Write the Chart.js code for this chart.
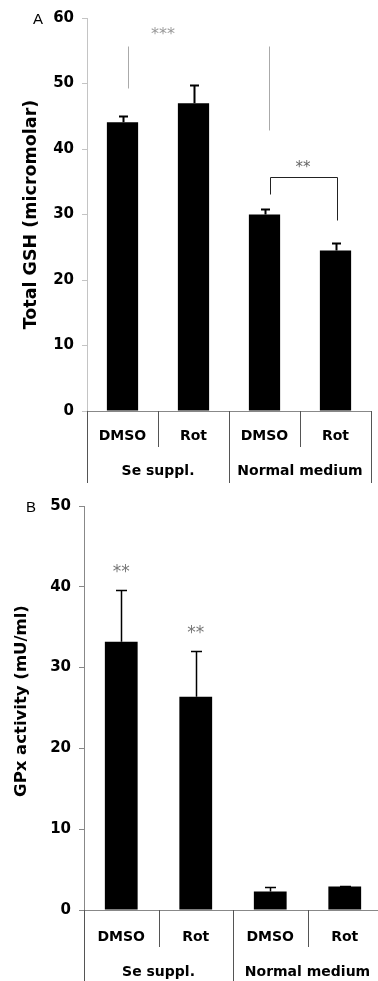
<!DOCTYPE html>
<html>
<head>
<meta charset="utf-8">
<script src="https://cdn.jsdelivr.net/npm/chart.js@4.4.0/dist/chart.umd.min.js"></script>
<style>
    html, body { margin: 0; padding: 0; background: #fff; overflow: hidden; }
    #wrap { width: 378px; height: 981px; overflow: hidden; }
    canvas { display: block; }
</style>
</head>
<body>
<div id="wrap">
    <canvas id="chartA" width="378" height="489"></canvas>
    <canvas id="chartB" width="384" height="492"></canvas>
</div>
<script>
// Data
const categories = ['DMSO', 'Rot', 'DMSO', 'Rot'];
const groups = ['Se suppl.', 'Normal medium'];
const gshValues = [44.1, 47.0, 30.0, 24.5];
const gshErrors = [0.9, 2.8, 0.8, 1.2];
const gshTicks = [0, 10, 20, 30, 40, 50, 60];
const gpxValues = [33.2, 26.4, 2.3, 2.9];
const gpxErrors = [6.4, 5.6, 0.6, 0.1];
const gpxTicks = [0, 10, 20, 30, 40, 50];

const FONT = '"DejaVu Sans", Verdana, sans-serif';

// Draws error bars, two-level category axis, title, panel letter and significance marks
const panelPlugin = {
    id: 'panel',
    afterDraw(chart, args, opts) {
        const ctx = chart.ctx;
        const xs = chart.scales.x;
        const ys = chart.scales.y;
        const area = chart.chartArea;
        const values = chart.data.datasets[0].data;
        ctx.save();

        // error bars
        ctx.strokeStyle = '#000';
        ctx.lineWidth = opts.errWidth;
        values.forEach((v, i) => {
            const cx = Math.round(xs.getPixelForValue(i)) + 0.5;
            const y0 = ys.getPixelForValue(v);
            const y1 = Math.round(ys.getPixelForValue(v + opts.errors[i])) + 0.5;
            ctx.beginPath();
            ctx.moveTo(cx, y0);
            ctx.lineTo(cx, y1);
            ctx.moveTo(cx - opts.cap / 2, y1);
            ctx.lineTo(cx + opts.cap / 2, y1);
            ctx.stroke();
        });

        // separators of the category axis
        ctx.strokeStyle = '#555';
        ctx.lineWidth = 1;
        const bottom = area.bottom;
        for (let i = 0; i <= categories.length; i++) {
            let ex;
            if (i === 0) ex = area.left;
            else if (i === categories.length) ex = area.right;
            else ex = (xs.getPixelForValue(i - 1) + xs.getPixelForValue(i)) / 2;
            const long = i % 2 === 0;
            ctx.beginPath();
            ctx.moveTo(Math.round(ex) + 0.5, bottom);
            ctx.lineTo(Math.round(ex) + 0.5, long ? bottom + opts.groupDepth : bottom + opts.catDepth);
            ctx.stroke();
        }

        // category and group labels
        ctx.fillStyle = '#000';
        ctx.font = 'bold 14px ' + FONT;
        ctx.textAlign = 'center';
        ctx.textBaseline = 'middle';
        categories.forEach((c, i) => {
            ctx.fillText(c, xs.getPixelForValue(i), bottom + opts.catOffset);
        });
        groups.forEach((g, gi) => {
            const gx = (xs.getPixelForValue(gi * 2) + xs.getPixelForValue(gi * 2 + 1)) / 2;
            ctx.fillText(g, gx, bottom + opts.groupOffset);
        });

        // y title
        ctx.save();
        ctx.translate(opts.titleX, (area.top + area.bottom) / 2 + opts.titleDy);
        ctx.rotate(-Math.PI / 2);
        ctx.font = 'bold ' + opts.titleSize + 'px ' + FONT;
        ctx.fillText(opts.title, 0, 0);
        ctx.restore();

        // panel letter
        ctx.font = '15px "Liberation Sans", Arial, sans-serif';
        ctx.fillText(opts.letter, opts.letterX, opts.letterY);

        // significance marks
        (opts.lines || []).forEach(l => {
            ctx.strokeStyle = l.color;
            ctx.lineWidth = 1;
            ctx.beginPath();
            l.pts.forEach(([ci, dx, v], k) => {
                const px = Math.round(xs.getPixelForValue(ci) + dx) + 0.5;
                const py = Math.round(ys.getPixelForValue(v)) + 0.5;
                if (k === 0) ctx.moveTo(px, py); else ctx.lineTo(px, py);
            });
            ctx.stroke();
        });
        (opts.stars || []).forEach(s => {
            ctx.fillStyle = s.color;
            ctx.font = s.size + 'px ' + FONT;
            ctx.fillText(s.text, xs.getPixelForValue(s.cat) + s.dx, ys.getPixelForValue(s.v));
        });

        ctx.restore();
    }
};

function makeChart(id, values, ticks, axisWidth, xHeight, padding, yBorder, panel) {
    return new Chart(document.getElementById(id), {
        type: 'bar',
        data: {
            labels: categories,
            datasets: [{
                data: values,
                backgroundColor: '#000',
                borderWidth: 0,
                barPercentage: 0.44,
                categoryPercentage: 1
            }]
        },
        options: {
            responsive: false,
            animation: false,
            events: [],
            layout: { padding: padding },
            plugins: {
                legend: { display: false },
                tooltip: { enabled: false },
                panel: panel
            },
            scales: {
                x: {
                    ticks: { display: false },
                    grid: { display: false },
                    border: { display: true, color: '#888', width: 1 },
                    afterFit(scale) { scale.height = xHeight; }
                },
                y: {
                    min: ticks[0],
                    max: ticks[ticks.length - 1],
                    afterBuildTicks(scale) { scale.ticks = ticks.map(v => ({ value: v })); },
                    ticks: {
                        color: '#000',
                        padding: 8,
                        font: { family: FONT, size: 15, weight: 'bold' }
                    },
                    grid: { drawOnChartArea: false, drawTicks: true, tickLength: 5, color: yBorder },
                    border: { display: true, color: yBorder, width: 1 },
                    afterFit(scale) { scale.width = axisWidth; }
                }
            }
        },
        plugins: [panelPlugin]
    });
}

makeChart('chartA', gshValues, gshTicks, 87, 78, { top: 18, right: 7, left: 0, bottom: 0 }, '#c4c4c4', {
    errors: gshErrors, errWidth: 2, cap: 9,
    catOffset: 25, groupOffset: 60, catDepth: 36, groupDepth: 72,
    title: 'Total GSH (micromolar)', titleX: 31, titleDy: 0, titleSize: 17.5,
    letter: 'A', letterX: 38, letterY: 20,
    lines: [
        { color: '#aaa', pts: [[0, 5, 55.7], [0, 5, 49.3]] },
        { color: '#aaa', pts: [[2, 4, 55.7], [2, 4, 42.9]] },
        { color: '#222', pts: [[2, 5, 33.1], [2, 5, 35.7], [3, 1, 35.7], [3, 1, 29.2]] }
    ],
    stars: [
        { text: '***', cat: 0.5, dx: 5, v: 57.4, color: '#999', size: 16 },
        { text: '**', cat: 2.5, dx: 3, v: 37.1, color: '#666', size: 15 }
    ]
});

makeChart('chartB', gpxValues, gpxTicks, 84, 71, { top: 9, right: 2, left: 0, bottom: 0 }, '#888', {
    errors: gpxErrors, errWidth: 1.5, cap: 11,
    catOffset: 27, groupOffset: 62, catDepth: 37, groupDepth: 80,
    title: 'GPx activity (mU/ml)', titleX: 22, titleDy: -7, titleSize: 16.5,
    letter: 'B', letterX: 31, letterY: 19,
    stars: [
        { text: '**', cat: 0, dx: 0, v: 41.8, color: '#777', size: 17 },
        { text: '**', cat: 1, dx: 0, v: 34.2, color: '#777', size: 17 }
    ]
});
</script>
</body>
</html>
